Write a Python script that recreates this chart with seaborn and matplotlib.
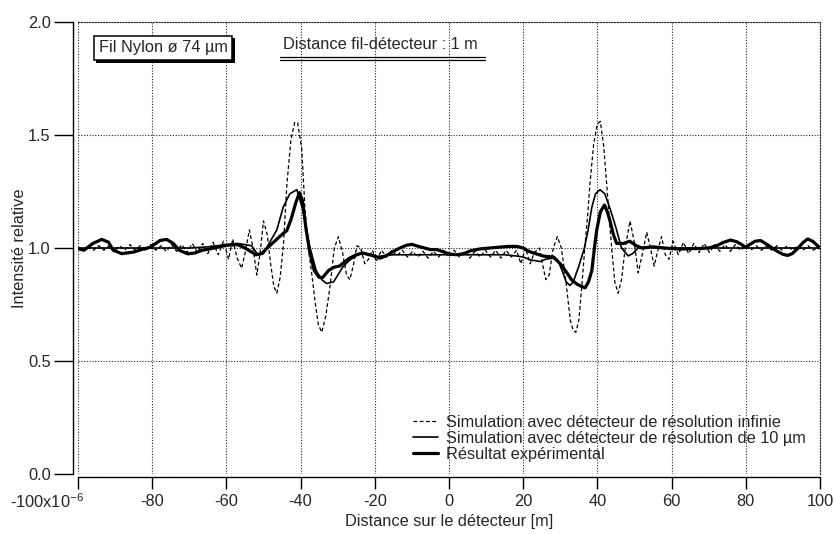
import matplotlib
matplotlib.use("Agg")
import matplotlib.pyplot as plt
import matplotlib.patheffects as pe
import seaborn as sns

# --- data (x in µm, y = relative intensity) ---
x_inf = [-100.0, -98.6, -97.2, -95.8, -94.4, -93.0, -91.6, -90.2, -88.8, -87.4, -86.0, -84.6,
         -83.2, -81.8, -80.4, -79.0, -77.6, -76.2, -74.8, -73.4, -72.0, -70.6, -69.2, -67.8,
         -66.4, -65.0, -63.6, -62.2, -60.8, -59.4, -58.3, -57.2, -55.9, -54.8, -53.8, -52.8,
         -51.8, -50.9, -50.0, -49.0, -48.0, -47.2, -46.4, -45.5, -44.6, -43.7, -42.6, -41.6,
         -40.8, -39.7, -38.8, -37.9, -37.0, -36.0, -35.2, -34.3, -33.2, -32.1, -30.9, -29.8,
         -28.7, -27.6, -26.7, -25.7, -24.8, -23.8, -22.7, -21.7, -20.6, -19.6,
         -18.2, -16.8, -15.4, -14.0, -12.6, -11.2, -9.8, -8.4, -7.0, -5.6, -4.2, -2.8, -1.4,
         0.0, 1.4, 2.8, 4.2, 5.6, 7.0, 8.4, 9.8, 11.2, 12.6, 14.0, 15.4, 16.8, 18.2,
         19.4, 20.6, 21.9, 23.0, 24.4, 25.2, 26.1, 27.0, 28.1, 29.2, 30.3, 31.6, 32.7, 33.5,
         34.2, 35.0, 35.8, 36.7, 37.4, 38.0, 39.0, 40.0, 40.8, 41.7, 42.5, 43.2, 43.9, 44.7,
         45.6, 46.5, 47.5, 48.8, 49.9, 51.0, 52.2, 53.3, 54.3, 55.3, 56.3, 57.3, 58.3, 59.3,
         60.4, 61.8, 63.2, 64.6, 66.0, 67.4, 68.8, 70.2, 71.6, 73.0, 74.4, 75.8, 77.2, 78.6,
         80.0, 81.4, 82.8, 84.2, 85.6, 87.0, 88.4, 89.8, 91.2, 92.6, 94.0, 95.4, 96.8, 98.2,
         99.6]
y_inf = [1.00, 0.99, 1.01, 0.99, 1.01, 0.99, 1.01, 0.985, 1.01, 0.99, 1.015, 0.99,
         1.01, 0.985, 1.015, 0.99, 1.01, 0.985, 1.015, 0.985, 1.015, 0.98, 1.02, 0.98,
         1.02, 0.975, 1.025, 0.97, 1.03, 0.95, 1.04, 0.96, 0.91, 0.99, 1.08, 1.00,
         0.88, 0.98, 1.12, 1.06, 0.92, 0.83, 0.80, 0.87, 1.02, 1.28, 1.48, 1.555,
         1.555, 1.44, 1.17, 1.00, 0.886, 0.75, 0.66, 0.627, 0.70, 0.826, 1.00, 1.05,
         0.98, 0.88, 0.86, 0.93, 1.01, 1.00, 0.93, 0.95, 0.99, 0.94,
         0.99, 0.96, 0.99, 0.965, 0.99, 0.96, 0.985, 0.96, 0.985, 0.955, 0.985, 0.96, 0.99,
         0.96, 0.99, 0.96, 0.985, 0.955, 0.985, 0.96, 0.99, 0.96, 0.99, 0.955, 0.99, 0.96, 0.99,
         0.93, 1.00, 0.93, 0.98, 1.00, 0.93, 0.86, 0.88, 1.00, 1.05, 1.00, 0.84, 0.68, 0.635,
         0.627, 0.68, 0.83, 1.02, 1.15, 1.285, 1.46, 1.55, 1.56, 1.45, 1.285, 1.13, 0.99, 0.85,
         0.80, 0.86, 1.00, 1.12, 1.03, 0.89, 0.98, 1.07, 1.00, 0.92, 0.99, 1.05, 0.97, 0.95,
         1.03, 0.97, 1.025, 0.975, 1.02, 0.98, 1.02, 0.98, 1.015, 0.985, 1.015, 0.985, 1.015, 0.99,
         1.01, 0.99, 1.01, 0.99, 1.01, 0.99, 1.01, 0.99, 1.01, 0.99, 1.01, 0.99, 1.01, 0.99,
         1.005]

x_10um = [-100, -90, -80, -70, -65, -60, -57, -55, -53.2, -51.5, -50, -48.5, -46.4, -44.7,
          -42.9, -41.0, -39.4, -37.6, -35.8, -34.3, -33.0, -31.1, -28.6, -26.8, -24.0, -22.0,
          -20.0, -18.0, -15.0, -10.0, -5.0, 0.0, 5.0, 10.0, 15.0, 18.0, 20.0, 22.0, 24.6,
          26.0, 28.0, 29.5, 30.5, 31.6, 32.6, 33.5, 35.0, 36.5, 37.5, 38.5, 39.5, 40.7, 42.0,
          43.5, 45.0, 46.5, 48.3, 49.5, 51.0, 53.0, 56.0, 60.0, 70.0, 80.0, 90.0, 100.0]
y_10um = [1.0, 1.0, 1.0, 1.0, 1.005, 1.015, 1.02, 1.015, 1.01, 0.97, 0.975, 1.02, 1.08, 1.18,
          1.24, 1.258, 1.17, 1.01, 0.90, 0.86, 0.843, 0.85, 0.916, 0.946, 0.975, 0.975,
          0.96, 0.965, 0.97, 0.97, 0.97, 0.97, 0.97, 0.97, 0.97, 0.965, 0.96, 0.947, 0.94,
          0.95, 0.955, 0.94, 0.90, 0.85, 0.834, 0.85, 0.92, 1.00, 1.08, 1.18, 1.24, 1.258, 1.24,
          1.17, 1.09, 1.00, 0.965, 0.975, 1.0, 1.005, 1.0, 1.0, 1.0, 1.0, 1.0, 1.0]

x_exp = [-100, -98.4, -96.0, -93.6, -91.8, -90.5, -88.2, -85.0, -82.7, -80.6, -77.9, -76.1,
         -74.3, -72.7, -70.4, -68.5, -66.5, -64.4, -62.0, -59.9, -57.0, -55.0, -53.5, -52.0,
         -50.5, -49.0, -47.0, -45.0, -43.7, -42.5, -41.3, -40.3, -39.5, -38.5, -37.5, -36.3,
         -35.0, -34.0, -32.5, -31.0, -29.5, -28.0, -26.8, -25.0, -23.2, -21.5, -20.0, -18.6,
         -17.0, -15.0, -13.2, -11.5, -10.0, -7.8, -5.0, -3.3, -1.0, 0.3, 2.0, 4.0, 5.7, 8.4,
         11.0, 13.8, 16.0, 18.3, 20.0, 21.5, 22.8, 25.5, 28.2, 30.0, 31.8, 33.0, 34.5, 35.7,
         36.7, 37.6, 38.5, 39.2, 39.8, 40.8, 41.9, 42.7, 43.4, 44.3, 45.2, 47.0, 48.7, 50.5,
         52.0, 55.0, 58.0, 62.0, 65.0, 68.0, 70.0, 72.3, 74.0, 75.9, 77.5, 78.6, 80.0, 81.0,
         82.5, 84.0, 85.5, 86.7, 88.5, 90.0, 91.3, 92.5, 94.0, 95.5, 96.7, 98.0, 99.2, 100.0]
y_exp = [0.997, 0.99, 1.02, 1.038, 1.026, 0.99, 0.975, 0.982, 0.994, 1.003, 1.033, 1.038,
         1.02, 0.99, 0.974, 0.978, 0.99, 0.996, 1.005, 1.012, 1.015, 1.0, 0.985, 0.97,
         0.975, 1.0, 1.03, 1.06, 1.077, 1.13, 1.20, 1.245, 1.21, 1.08, 0.98, 0.90,
         0.87, 0.87, 0.90, 0.915, 0.92, 0.94, 0.955, 0.97, 0.978, 0.97, 0.964, 0.955,
         0.965, 0.985, 1.0, 1.012, 1.016, 1.005, 0.993, 0.993, 0.98, 0.973, 0.97, 0.975, 0.987, 0.996,
         1.0, 1.004, 1.007, 1.007, 1.0, 0.985, 0.978, 0.964, 0.96, 0.93, 0.89, 0.86, 0.84, 0.83,
         0.824, 0.85, 0.90, 1.00, 1.077, 1.16, 1.19, 1.16, 1.12, 1.06, 1.02, 1.02, 1.03, 1.01,
         1.0, 1.005, 1.0, 0.995, 0.997, 0.998, 1.0, 1.011, 1.025, 1.035, 1.028, 1.018, 1.003, 1.015,
         1.03, 1.033, 1.018, 1.005, 0.985, 0.972, 0.967, 0.975, 0.998, 1.025, 1.04, 1.03, 1.012, 1.0]

x_ticks = [-100, -80, -60, -40, -20, 0, 20, 40, 60, 80, 100]
x_ticklabels = ["", "-80", "-60", "-40", "-20", "0", "20", "40", "60", "80", "100"]
x_first_label = "-100x10$^{-6}$"
y_ticks = [0.0, 0.5, 1.0, 1.5, 2.0]
y_ticklabels = ["0.0", "0.5", "1.0", "1.5", "2.0"]

labels = ["Simulation avec détecteur de résolution infinie",
          "Simulation avec détecteur de résolution de 10 µm",
          "Résultat expérimental"]

fs = 11.8
sns.set_style("ticks")
plt.rcParams["font.family"] = ["Liberation Sans", "DejaVu Sans"]
plt.rcParams["mathtext.fontset"] = "custom"
plt.rcParams["mathtext.rm"] = "Liberation Sans"
plt.rcParams["mathtext.default"] = "rm"
plt.rcParams["xtick.labelsize"] = fs
plt.rcParams["ytick.labelsize"] = fs

fig = plt.figure(figsize=(8.34, 5.34), dpi=100)
ax = fig.add_axes([0.0935, 0.1124, 0.8897, 0.8464])

sns.lineplot(x=x_inf, y=y_inf, ax=ax, color="black", linewidth=0.9,
             linestyle=(0, (3, 2)), sort=False, estimator=None, label=labels[0])
sns.lineplot(x=x_10um, y=y_10um, ax=ax, color="black", linewidth=1.2,
             sort=False, estimator=None, label=labels[1])
sns.lineplot(x=x_exp, y=y_exp, ax=ax, color="black", linewidth=2.3,
             sort=False, estimator=None, label=labels[2])

ax.set_xlim(-100, 100)
ax.set_ylim(0, 2)
ax.set_xticks(x_ticks)
ax.set_xticklabels(x_ticklabels)
ax.set_yticks(y_ticks)
ax.set_yticklabels(y_ticklabels)
ax.tick_params(axis="x", direction="out", length=8.3, width=1.0, pad=3.6, color="black", labelsize=fs)
ax.tick_params(axis="y", direction="out", length=14, width=1.0, pad=2, color="black", labelsize=fs)

# first x label sits to the left of its tick, Igor style
ax.annotate(x_first_label, xy=(x_ticks[0], 0), xycoords=("data", "axes fraction"),
            xytext=(4, -13.5), textcoords="offset points", ha="right", va="top", fontsize=fs)

ax.grid(True, color="0.15", linewidth=0.8, linestyle=(0, (1, 1.5)))
ax.set_axisbelow(True)
for side in ["top", "right"]:
    ax.spines[side].set_linestyle((0, (1, 1.5)))
    ax.spines[side].set_linewidth(0.8)
    ax.spines[side].set_color("0.15")
ax.spines["left"].set_position(("outward", 3.6))
ax.spines["bottom"].set_position(("outward", 2.2))
for side in ["left", "bottom"]:
    ax.spines[side].set_linewidth(1.0)
    ax.spines[side].set_color("black")

ax.set_xlabel("Distance sur le détecteur [m]", fontsize=fs, labelpad=4)
ax.set_ylabel("Intensité relative", fontsize=fs, labelpad=0.5)

ax.legend(loc="lower left", bbox_to_anchor=(0.451, 0.027), frameon=False, fontsize=fs,
          borderpad=0, handlelength=1.55, handletextpad=0.5, labelspacing=0.06, borderaxespad=0)

# annotation: wire box with drop shadow
t = ax.text(0.1146, 0.9425, "Fil Nylon ø 74 µm", transform=ax.transAxes, fontsize=fs,
            ha="center", va="center",
            bbox=dict(boxstyle="square,pad=0.3", facecolor="white", edgecolor="black", linewidth=1.1))
t.get_bbox_patch().set_path_effects([pe.withSimplePatchShadow(offset=(2, -2), shadow_rgbFace="black", alpha=1)])

# annotation: distance with double underline
ax.text(0.408, 0.951, "Distance fil-détecteur : 1 m", transform=ax.transAxes, fontsize=fs,
        ha="center", va="center")
ax.plot([0.272, 0.5485], [0.9215, 0.9215], transform=ax.transAxes, color="black", linewidth=0.9)
ax.plot([0.272, 0.5485], [0.9155, 0.9155], transform=ax.transAxes, color="black", linewidth=0.9)

fig.savefig("out.png", dpi=100)
